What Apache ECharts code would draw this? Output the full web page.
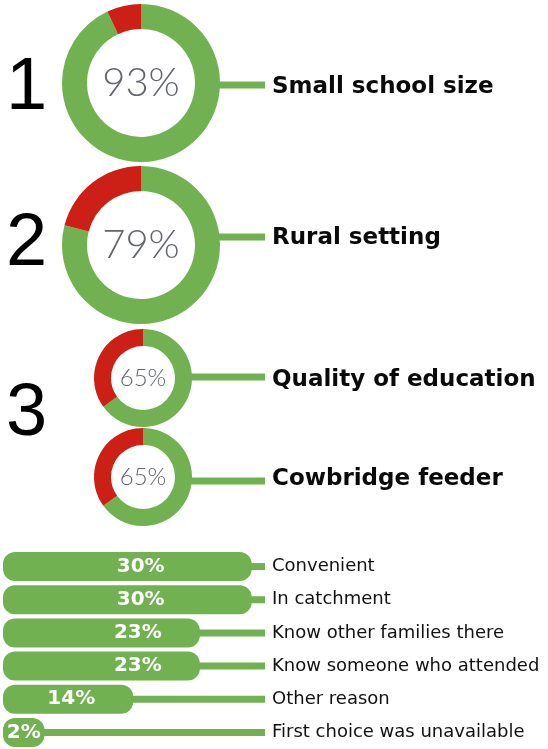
<!DOCTYPE html>
<html>
<head>
<meta charset="utf-8">
<script src="https://cdn.jsdelivr.net/npm/echarts@6/dist/echarts.min.js"></script>
<style>
  html, body { margin: 0; padding: 0; background: #fff; }
  #chart { width: 548px; height: 749px; }
</style>
</head>
<body>
<div id="chart"></div>
<script>
// data
var donutNames = ['Small school size', 'Rural setting', 'Quality of education', 'Cowbridge feeder'];
var donutShares = [93, 79, 65, 65];
var rankLabels = ['1', '2', '3'];
var reasonNames = ['Convenient', 'In catchment', 'Know other families there', 'Know someone who attended', 'Other reason', 'First choice was unavailable'];
var reasonShares = [30, 30, 23, 23, 14, 2];

var GREEN = '#72b152';
var RED = '#cc1f15';
var X_MIN = -3.6, X_MAX = 31.8;

// layout of the donuts (px)
var donutLayout = [
  {center: [141, 83], radius: [54, 79], font: 40, lineY: 85, textY: 87},
  {center: [141, 245], radius: [54, 79], font: 40, lineY: 237, textY: 238},
  {center: [143, 378], radius: [32, 49], font: 24, lineY: 377, textY: 380},
  {center: [143, 477], radius: [32, 49], font: 24, lineY: 481, textY: 479}
];
var rankY = [89, 245, 415];
var LINE_END = 265;

var chart = echarts.init(document.getElementById('chart'));

var series = donutShares.map(function (v, i) {
  var l = donutLayout[i];
  return {
    type: 'pie',
    name: donutNames[i],
    center: l.center,
    radius: l.radius,
    startAngle: 90,
    clockwise: true,
    silent: true,
    avoidLabelOverlap: false,
    label: {show: false},
    labelLine: {show: false},
    data: [
      {
        value: v, name: 'yes', itemStyle: {color: GREEN},
        label: {
          show: true, position: 'center', formatter: v + '%',
          fontFamily: 'Lato', fontWeight: 300, fontSize: l.font, color: '#62656c'
        }
      },
      {value: 100 - v, name: 'no', itemStyle: {color: RED}}
    ]
  };
});

series.push({
  type: 'custom',
  silent: true,
  data: reasonShares.map(function (v, i) { return [v, i]; }),
  encode: {x: 0, y: 1},
  renderItem: function (params, api) {
    var v = api.value(0), c = api.value(1);
    var p0 = api.coord([X_MIN, c]);
    var p1 = api.coord([v, c]);
    var p2 = api.coord([X_MAX, c]);
    var pm = api.coord([15, c]);
    var h = 29;
    var mid = (p0[0] + p1[0]) / 2;
    var tx = Math.max(mid, Math.min(pm[0], p1[0] - 62));
    return {
      type: 'group',
      children: [
        {type: 'rect', shape: {x: p1[0] - 10, y: p0[1] - 3.5, width: p2[0] - p1[0] + 10, height: 7}, style: {fill: GREEN}},
        {type: 'rect', shape: {x: p0[0], y: p0[1] - h / 2, width: p1[0] - p0[0], height: h, r: 12}, style: {fill: GREEN}},
        {type: 'text', style: {text: v + '%', x: tx, y: p0[1], align: 'center', verticalAlign: 'middle',
          fill: '#fff', font: 'bold 20px "DejaVu Sans"'}}
      ]
    };
  }
});

var graphics = [];
rankLabels.forEach(function (r, i) {
  graphics.push({
    type: 'text', x: 6, y: rankY[i],
    style: {text: r, font: '74px "Liberation Sans"', fill: '#000', align: 'left', verticalAlign: 'middle'}
  });
});
donutLayout.forEach(function (l, i) {
  var x0 = l.center[0] + l.radius[1] - 2;
  graphics.push({
    type: 'rect', shape: {x: x0, y: l.lineY - 3.5, width: LINE_END - x0, height: 7},
    style: {fill: GREEN}
  });
  graphics.push({
    type: 'text', x: 272, y: l.textY,
    style: {text: donutNames[i], font: 'bold 23px "DejaVu Sans"', fill: '#0a0a0a', align: 'left', verticalAlign: 'middle'}
  });
});

chart.setOption({
  backgroundColor: '#fff',
  animation: false,
  grid: {left: 3, width: 262, top: 550, height: 200},
  xAxis: {type: 'value', min: X_MIN, max: X_MAX, show: false},
  yAxis: {
    type: 'category',
    data: reasonNames,
    inverse: true,
    position: 'right',
    axisLine: {show: false},
    axisTick: {show: false},
    axisLabel: {margin: 7, color: '#111', fontSize: 18, fontFamily: 'DejaVu Sans'}
  },
  graphic: graphics,
  series: series
});
</script>
</body>
</html>
